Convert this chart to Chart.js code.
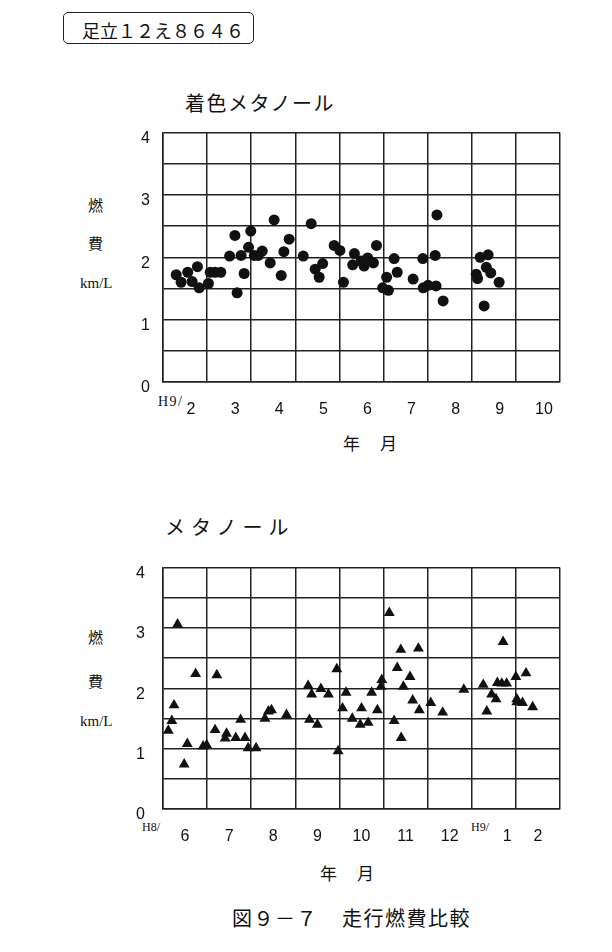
<!DOCTYPE html>
<html><head><meta charset="utf-8">
<script src="https://cdn.jsdelivr.net/npm/chart.js@4/dist/chart.umd.min.js"></script>
<style>
body{margin:0;background:#fff;width:612px;height:952px;position:relative;overflow:hidden;font-family:'Noto Sans CJK JP',sans-serif;color:#111}
.t{position:absolute;white-space:nowrap;line-height:1;color:#111}
.box{position:absolute;left:63px;top:12px;width:189px;height:30px;border:1.6px solid #222;border-radius:5px}
.cv{position:absolute;left:0;width:612px;height:320px}
.serif{font-family:'Liberation Serif',serif}
</style></head><body>
<div class="box"></div>
<div class="t" style="left:82px;top:21px;font-size:18px">足立１２え８６４６</div>

<div class="t" style="left:185px;top:93px;font-size:20px;letter-spacing:1.5px">着色メタノール</div>
<div class="t" style="left:88px;top:197px;font-size:15px">燃</div>
<div class="t" style="left:88px;top:235px;font-size:15px">費</div>
<div class="t serif" style="left:80px;top:276px;font-size:15px">km/L</div>
<div class="t serif" style="left:158px;top:395px;font-size:14px;letter-spacing:1.5px">H9/</div>
<div class="t" style="left:343px;top:434px;font-size:17px">年</div>
<div class="t" style="left:380px;top:434px;font-size:17px">月</div>
<canvas id="c1" class="cv" style="top:110px" width="612" height="320"></canvas>

<div class="t" style="left:165px;top:517px;font-size:20px;letter-spacing:6px">メタノール</div>
<div class="t" style="left:88px;top:629px;font-size:15px">燃</div>
<div class="t" style="left:88px;top:673px;font-size:15px">費</div>
<div class="t serif" style="left:80px;top:714px;font-size:15px">km/L</div>
<div class="t serif" style="left:142px;top:821px;font-size:12px">H8/</div>
<div class="t serif" style="left:471px;top:821px;font-size:12px">H9/</div>
<div class="t" style="left:320px;top:864px;font-size:17px">年</div>
<div class="t" style="left:357px;top:864px;font-size:17px">月</div>
<canvas id="c2" class="cv" style="top:540px" width="612" height="320"></canvas>

<div class="t" style="left:232px;top:908px;font-size:20px;letter-spacing:1.5px">図９－７</div>
<div class="t" style="left:342px;top:908px;font-size:20px;letter-spacing:1.5px">走行燃費比較</div>

<script>
// 着色メタノール (H9/2 – H9/10): x = months from start of Feb, y = km/L
const monthsColored = ['2','3','4','5','6','7','8','9','10'];
const coloredX = [0.30,0.41,0.56,0.66,0.78,0.82,1.03,1.07,1.18,1.31,1.51,1.63,1.68,1.77,1.84,1.94,1.99,2.07,2.16,2.25,2.43,2.52,2.68,2.74,2.86,3.18,3.36,3.45,3.54,3.62,3.88,4.01,4.09,4.30,4.34,4.49,4.56,4.64,4.77,4.84,4.98,5.07,5.11,5.24,5.31,5.67,5.89,5.90,6.01,6.17,6.19,6.21,6.35,7.10,7.13,7.19,7.28,7.33,7.37,7.43,7.62];
const coloredY = [1.72,1.60,1.76,1.61,1.85,1.51,1.58,1.76,1.76,1.76,2.02,2.35,1.43,2.03,1.74,2.16,2.42,2.03,2.03,2.10,1.91,2.60,1.71,2.09,2.29,2.02,2.54,1.81,1.68,1.90,2.19,2.11,1.60,1.88,2.06,1.94,1.86,1.99,1.91,2.19,1.51,1.68,1.47,1.98,1.76,1.65,1.98,1.51,1.55,2.03,1.54,2.68,1.30,1.73,1.66,2.00,1.22,1.84,2.04,1.75,1.60];

// メタノール (H8/6 – H9/2)
const monthsMethanol = ['6','7','8','9','10','11','12','      1','2'];
const methanolX = [0.12,0.20,0.25,0.33,0.48,0.55,0.74,0.91,0.99,1.18,1.22,1.41,1.44,1.65,1.76,1.86,1.93,2.11,2.31,2.39,2.46,2.80,3.29,3.32,3.37,3.50,3.58,3.75,3.94,3.97,4.07,4.15,4.29,4.47,4.50,4.65,4.73,4.86,4.94,4.96,5.13,5.24,5.31,5.39,5.40,5.45,5.60,5.66,5.79,5.81,6.07,6.34,6.82,7.26,7.34,7.45,7.55,7.58,7.68,7.71,7.79,8.00,8.02,8.02,8.15,8.23,8.38];
const methanolY = [1.30,1.46,1.72,3.06,0.74,1.08,2.24,1.04,1.06,1.31,2.22,1.17,1.25,1.18,1.48,1.18,1.01,1.01,1.50,1.62,1.64,1.56,2.04,1.48,1.90,1.40,1.99,1.90,2.32,0.96,1.67,1.93,1.50,1.40,1.67,1.43,1.93,1.64,2.03,2.14,3.25,1.46,2.34,2.64,1.18,2.03,2.19,1.80,2.66,1.64,1.76,1.60,1.98,2.06,1.62,1.90,1.82,2.09,2.08,2.77,2.08,2.19,1.82,1.77,1.76,2.25,1.69];

const yTickLabels = ['0','1','2','3','4'];

function makeChart(id, xs, ys, style, radius, monthLabels, xOff, yPad, xAxisH, padTop) {
  const pts = xs.map((x, i) => ({x: x, y: ys[i]}));
  return new Chart(document.getElementById(id), {
    type: 'scatter',
    data: {datasets: [{data: pts, pointStyle: style, pointRadius: radius, pointHoverRadius: radius,
      backgroundColor: '#111', borderColor: '#111', borderWidth: 0}]},
    options: {
      responsive: false, animation: false,
      layout: {padding: {left: 0, right: 52, top: padTop, bottom: 0}},
      plugins: {legend: {display: false}, tooltip: {enabled: false}},
      scales: {
        x: {type: 'linear', min: 0, max: 9,
          afterFit(s) { s.height = xAxisH; },
          grid: {color: '#222', lineWidth: 1.5, drawTicks: false},
          border: {color: '#222', width: 1.5},
          ticks: {stepSize: 1, padding: 18, labelOffset: xOff, autoSkip: false, maxRotation: 0,
            color: '#111', font: {family: 'Liberation Sans', size: 16},
            callback: (v) => (monthLabels[v] !== undefined ? monthLabels[v] : '')}},
        y: {min: 0, max: 4,
          afterFit(s) { s.width = 163; },
          grid: {color: '#222', lineWidth: 1.5, drawTicks: false},
          border: {color: '#222', width: 1.5},
          ticks: {stepSize: 0.5, padding: yPad, labelOffset: 6, color: '#111',
            font: {family: 'Liberation Sans', size: 16},
            callback: (v) => (Number.isInteger(v) ? yTickLabels[v] : '')}}
      }
    }
  });
}

makeChart('c1', coloredX, coloredY, 'circle', 5.5, monthsColored, 28, 13, 48, 17);
makeChart('c2', methanolX, methanolY, 'triangle', 6.3, monthsMethanol, 22, 18, 51, 15);
</script>
</body></html>
